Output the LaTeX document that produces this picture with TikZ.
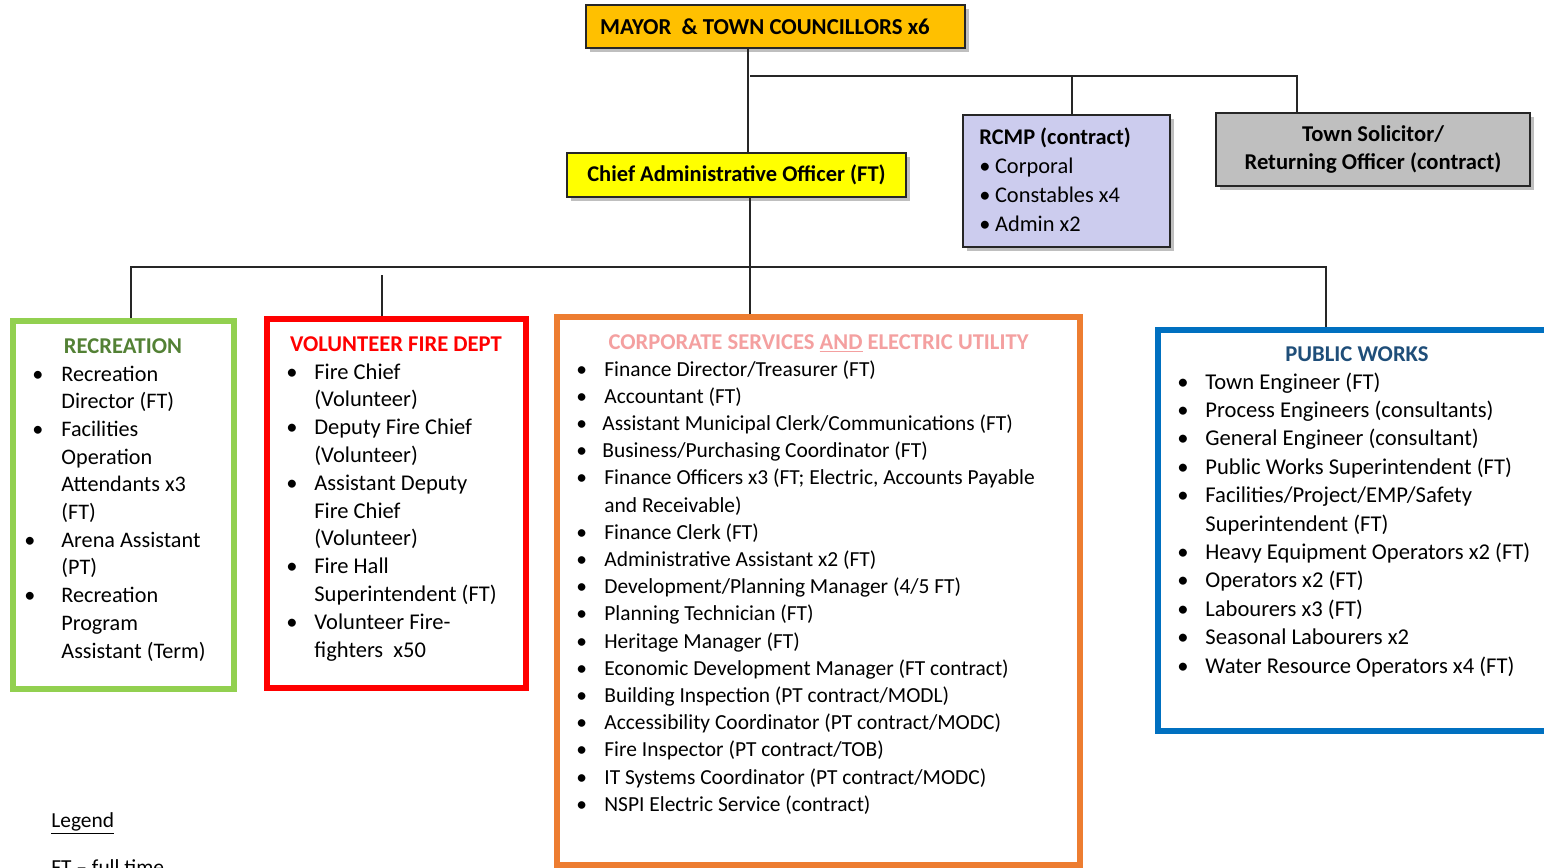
\documentclass[tikz,border=0pt]{standalone}
\usepackage{fontspec}
\setmainfont{Carlito}
\usetikzlibrary{shadows}
\definecolor{mayorfill}{HTML}{FFC000}
\definecolor{caofill}{HTML}{FFFF00}
\definecolor{rcmpfill}{RGB}{204,204,238}
\definecolor{solfill}{HTML}{BFBFBF}
\definecolor{recgreen}{HTML}{92D050}
\definecolor{rectitle}{HTML}{538135}
\definecolor{firered}{HTML}{FF0000}
\definecolor{corporange}{HTML}{ED7D31}
\definecolor{corptitle}{HTML}{F4A0A0}
\definecolor{pwblue}{HTML}{0070C0}
\definecolor{pwtitle}{HTML}{1F4E79}
\newlength\pxu \setlength\pxu{0.5pt}
\newlength\bw
\newcommand\bul{\makebox[\bw][l]{\textbullet}}
\newcommand\nob{\hspace*{\bw}}
\begin{document}
\begin{tikzpicture}[x=0.5pt,y=-0.5pt,
  topbox/.style={draw=black!85, line width=0.9pt, inner sep=0pt,
    font=\bfseries\fontsize{11.25}{13.5}\selectfont,
    drop shadow={shadow xshift=2pt, shadow yshift=-2pt, fill=black!50, opacity=0.5}},
  deptbox/.style={line width=3pt, fill=white, inner sep=0pt,
    drop shadow={shadow xshift=1.5pt, shadow yshift=-1.5pt, fill=black!30, opacity=0.4}},
  titletext/.style={anchor=base, inner sep=0pt, font=\bfseries\fontsize{11.3}{13.5}\selectfont},
  listtext/.style={anchor=base west, inner sep=0pt},
  conn/.style={line width=0.8pt, draw=black!85}]
\clip (0,0) rectangle (1544,868);
\fill[white] (0,0) rectangle (1544,868);

% top boxes
\node[topbox, fill=mayorfill, minimum width=189.5pt, minimum height=21.5pt,
  font=\bfseries\fontsize{11.4}{13.5}\selectfont] (mayor) at (775.5,26.5)
  {MAYOR\ \ \& TOWN COUNCILLORS x6\hspace*{21\pxu}};
\node[topbox, fill=caofill, minimum width=169.5pt, minimum height=22pt] (cao) at (736.5,175)
  {Chief Administrative Officer (FT)};
\node[topbox, fill=rcmpfill, minimum width=103.5pt, minimum height=66pt] (rcmp) at (1066.5,181) {};
\node[topbox, fill=solfill, minimum width=157pt, minimum height=36.5pt, align=center,
  font=\bfseries\fontsize{11.3}{14}\selectfont] (sol) at (1373,149.5)
  {Town Solicitor/\\Returning Officer (contract)};
\node[listtext, font=\fontsize{11.2}{14.5}\selectfont] (rcmptxt) at (979,144)
  {\begin{tabular}[t]{@{}l@{}}\textbf{RCMP (contract)}\\ \textbullet\hspace{0.2em}Corporal\\ \textbullet\hspace{0.2em}Constables x4\\ \textbullet\hspace{0.2em}Admin x2\end{tabular}};

% department boxes
\node[deptbox, draw=recgreen, minimum width=110.5pt, minimum height=184pt] (rec) at (123.5,505) {};
\node[deptbox, draw=firered, minimum width=129.5pt, minimum height=184.5pt] (fire) at (396.5,503.5) {};
\node[deptbox, draw=corporange, minimum width=261.5pt, minimum height=274pt] (corp) at (818.5,591) {};
\node[deptbox, draw=pwblue, minimum width=206pt, minimum height=200.5pt] (pw) at (1364,530.5) {};

% connectors
\coordinate (j1) at (748,76);
\coordinate (jr) at (1072,76);
\coordinate (js) at (1297,76);
\coordinate (j2) at (750,267);
\coordinate (jl) at (131,267);
\coordinate (jf) at (382,275);
\coordinate (jp) at (1326,267);
\draw[conn] (j1 |- mayor.south) -- (j1 |- cao.north);
\draw[conn] ([xshift=1pt]j1) -- (js) -- (js |- sol.north);
\draw[conn] (jr) -- (jr |- rcmp.north);
\draw[conn] (j2 |- cao.south) -- (j2 |- corp.north);
\draw[conn] (jl |- rec.north) -- (jl) -- (jp) -- (jp |- pw.north);
\draw[conn] (jf) -- (jf |- fire.north);

% titles
\node[titletext, text=rectitle] (rectitle) at (123,353) {RECREATION};
\node[titletext, text=firered] (firetitle) at (396,351) {VOLUNTEER FIRE DEPT};
\node[titletext, text=corptitle, font=\bfseries\fontsize{11.3}{13.5}\selectfont] (corptitle) at (818.5,349)
  {CORPORATE SERVICES \underline{AND} ELECTRIC UTILITY};
\node[titletext, text=pwtitle] (pwtitle) at (1357,361) {PUBLIC WORKS};

% lists
\node[listtext, font={\fontsize{11.1}{13.85}\selectfont\setlength\bw{14.5pt}}] (reclist) at (32,381)
 {\begin{tabular}[t]{@{}l@{}}
 \bul Recreation\\ \nob Director (FT)\\
 \bul Facilities\\ \nob Operation\\ \nob Attendants x3\\ \nob (FT)\\
 \hspace*{-4pt}\makebox[\dimexpr\bw+4pt][l]{\textbullet}Arena Assistant\\ \nob (PT)\\
 \hspace*{-4pt}\makebox[\dimexpr\bw+4pt][l]{\textbullet}Recreation\\ \nob Program\\ \nob Assistant (Term)
 \end{tabular}};
\node[listtext, font={\fontsize{11.25}{13.9}\selectfont\setlength\bw{14pt}}] (firelist) at (286,379)
 {\begin{tabular}[t]{@{}l@{}}
 \bul Fire Chief\\ \nob (Volunteer)\\
 \bul Deputy Fire Chief\\ \nob (Volunteer)\\
 \bul Assistant Deputy\\ \nob Fire Chief\\ \nob (Volunteer)\\
 \bul Fire Hall\\ \nob Superintendent (FT)\\
 \bul Volunteer Fire-\\ \nob fighters\ \ x50
 \end{tabular}};
\node[listtext, font={\fontsize{10.72}{13.6}\selectfont\setlength\bw{14pt}}] (corplist) at (576,376)
 {\begin{tabular}[t]{@{}l@{}}
 \bul Finance Director/Treasurer (FT)\\
 \bul Accountant (FT)\\
 \makebox[13pt][l]{\textbullet}Assistant Municipal Clerk/Communications (FT)\\
 \makebox[13pt][l]{\textbullet}Business/Purchasing Coordinator (FT)\\
 \bul Finance Officers x3 (FT; Electric, Accounts Payable\\
 \nob and Receivable)\\
 \bul Finance Clerk (FT)\\
 \bul Administrative Assistant x2 (FT)\\
 \bul Development/Planning Manager (4/5 FT)\\
 \bul Planning Technician (FT)\\
 \bul Heritage Manager (FT)\\
 \bul Economic Development Manager (FT contract)\\
 \bul Building Inspection (PT contract/MODL)\\
 \bul Accessibility Coordinator (PT contract/MODC)\\
 \bul Fire Inspector (PT contract/TOB)\\
 \bul IT Systems Coordinator (PT contract/MODC)\\
 \bul NSPI Electric Service (contract)
 \end{tabular}};
\node[listtext, font={\fontsize{11.3}{14.2}\selectfont\setlength\bw{14pt}}] (pwlist) at (1177,389)
 {\begin{tabular}[t]{@{}l@{}}
 \bul Town Engineer (FT)\\
 \bul Process Engineers (consultants)\\
 \bul General Engineer (consultant)\\
 \bul Public Works Superintendent (FT)\\
 \bul Facilities/Project/EMP/Safety\\
 \nob Superintendent (FT)\\
 \bul Heavy Equipment Operators x2 (FT)\\
 \bul Operators x2 (FT)\\
 \bul Labourers x3 (FT)\\
 \bul Seasonal Labourers x2\\
 \bul Water Resource Operators x4 (FT)
 \end{tabular}};

% legend
\node[listtext, font=\fontsize{10.7}{13.6}\selectfont] (legend) at (51,827) {\underline{Legend}};
\node[listtext, font=\fontsize{10.7}{13.6}\selectfont] (legft) at (51,874) {FT – full time};
\end{tikzpicture}
\end{document}
